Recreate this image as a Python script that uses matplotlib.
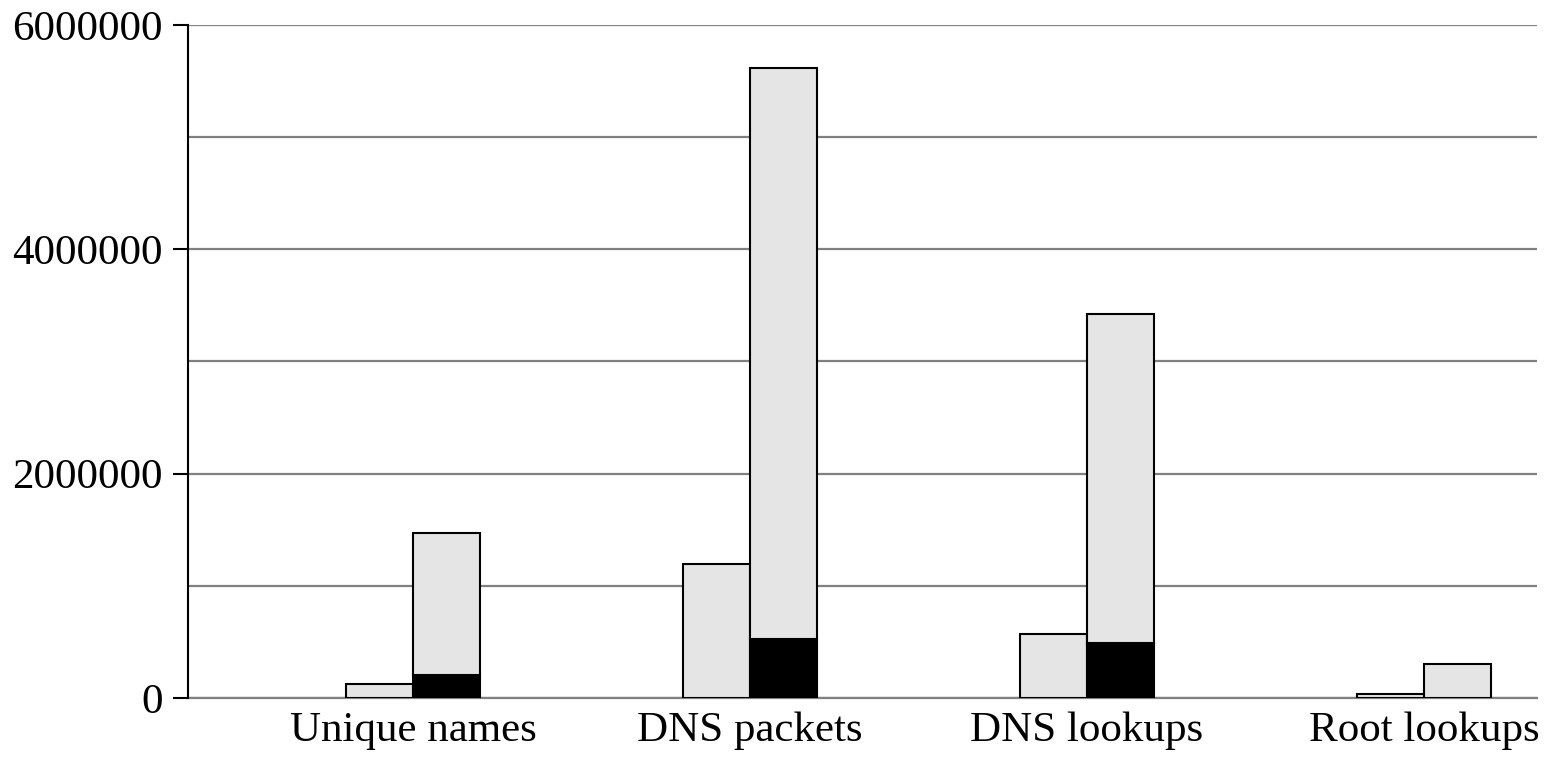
import matplotlib
matplotlib.use("Agg")
import matplotlib.pyplot as plt
import numpy as np

categories = ["Unique names", "DNS packets", "DNS lookups", "Root lookups"]
left_values = [125000, 1195000, 573000, 40000]
right_black = [205000, 523000, 493000, 0]
right_total = [1468000, 5614000, 3423000, 300000]
yticks = [0, 2000000, 4000000, 6000000]
ytick_labels = ["0", "2000000", "4000000", "6000000"]

plt.rcParams['font.family'] = ['Liberation Serif', 'DejaVu Serif']

fig = plt.figure(figsize=(15.44, 7.6), dpi=100)
ax = fig.add_axes([188/1544, 1-698/760, (1537-188)/1544, (698-25)/760])

x = np.arange(len(categories))
w = 0.2
gray = "#e5e5e5"
right_top = [t - b for t, b in zip(right_total, right_black)]

ax.bar(x - w/2, left_values, w, color=gray, edgecolor="black", linewidth=1.5, zorder=3)
ax.bar(x + w/2, right_black, w, color="black", edgecolor="black", linewidth=1.5, zorder=3)
ax.bar(x + w/2, right_top, w, bottom=right_black, color=gray, edgecolor="black", linewidth=1.5, zorder=3)

ax.set_xlim(-(413-188)/337, 3 + (1537-1424)/337)
ax.set_ylim(0, 6000000)

for yv in range(0, 7000000, 1000000):
    ax.axhline(yv, color="#808080", linewidth=1.6, zorder=1)

ax.set_yticks(yticks)
ax.set_yticklabels(ytick_labels)
ax.set_xticks(x)
ax.set_xticklabels(categories)
ax.tick_params(axis='y', length=11, width=1.5, pad=7, labelsize=31, direction='out')
ax.tick_params(axis='x', length=0, pad=10, labelsize=31)

for s in ["top", "right"]:
    ax.spines[s].set_visible(False)
ax.spines["bottom"].set_color("#808080")
ax.spines["bottom"].set_linewidth(1.6)
ax.spines["left"].set_linewidth(1.5)
ax.spines["left"].set_zorder(4)

fig.savefig("out.png", dpi=100)
